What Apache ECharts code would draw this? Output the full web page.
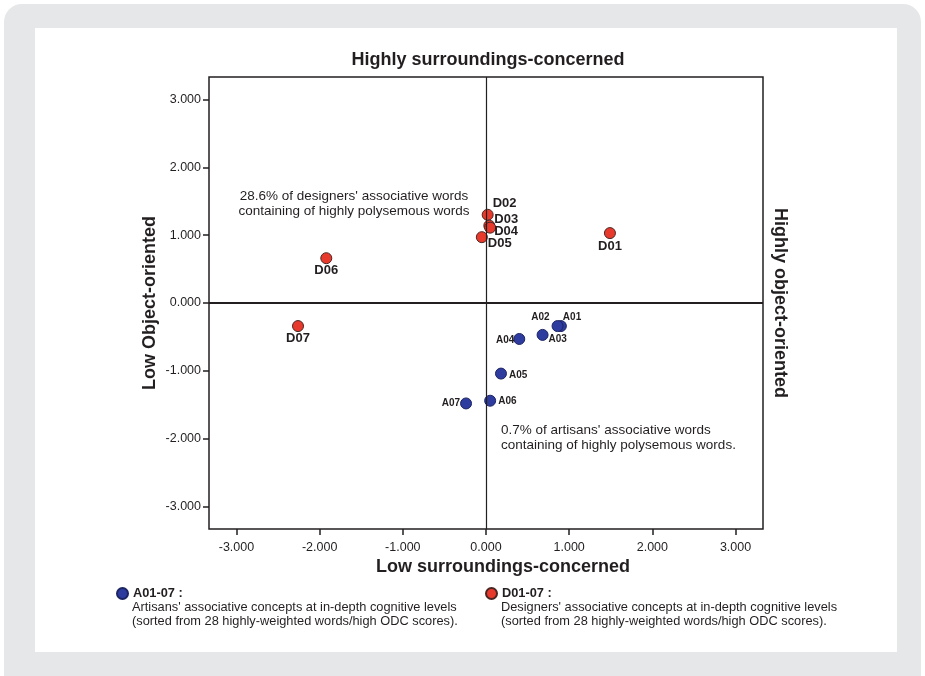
<!DOCTYPE html>
<html>
<head>
<meta charset="utf-8">
<script src="https://cdn.jsdelivr.net/npm/echarts@6/dist/echarts.min.js"></script>
<style>
  html, body { margin: 0; padding: 0; background: #ffffff; }
  #card { position: absolute; left: 4px; top: 4px; width: 917px; height: 700px; background: #e6e7e8; border-radius: 18px; }
  #panel { position: absolute; left: 35px; top: 28px; width: 862px; height: 624px; background: #ffffff; }
  #chart { position: absolute; left: 0; top: 0; width: 925px; height: 676px; }
</style>
</head>
<body>
<div id="card"></div>
<div id="panel"></div>
<div id="chart"></div>
<script>
// ---- data ----
const artisanNames = ['A01', 'A02', 'A03', 'A04', 'A05', 'A06', 'A07'];
const artisanX = [0.90, 0.86, 0.68, 0.40, 0.18, 0.05, -0.24];
const artisanY = [-0.34, -0.34, -0.47, -0.53, -1.04, -1.44, -1.48];
const designerNames = ['D01', 'D02', 'D03', 'D04', 'D05', 'D06', 'D07'];
const designerX = [1.49, 0.02, 0.04, 0.05, -0.05, -1.92, -2.26];
const designerY = [1.03, 1.30, 1.14, 1.11, 0.97, 0.66, -0.34];
const xTicks = [-3, -2, -1, 0, 1, 2, 3];
const yTicks = [-3, -2, -1, 0, 1, 2, 3];
const axisMin = -3.33, axisMax = 3.33;

// ---- label placement (style, not data) ----
const labelPlace = {
  A01: ['right', [-9, -9]], A02: ['left', [3, -9]], A03: ['right', [-5, 4]],
  A04: ['left', [6, 1]], A05: ['right', [-3, 2]], A06: ['right', [-3, 1]], A07: ['left', [5, 0]],
  D01: ['bottom', [0, -2]], D02: ['right', [-4, -11]], D03: ['right', [-4, -6]],
  D04: ['right', [-5, 4]], D05: ['right', [-3, 6]], D06: ['bottom', [0, -3]], D07: ['bottom', [0, -3]]
};

function buildPoints(names, xs, ys) {
  return names.map((n, i) => ({
    name: n,
    value: [xs[i], ys[i]],
    label: { position: labelPlace[n][0], offset: labelPlace[n][1] }
  }));
}

const textColor = '#231f20';
const font = 'Liberation Sans, Arial, Helvetica, sans-serif';

const chart = echarts.init(document.getElementById('chart'), null, { renderer: 'canvas' });
chart.setOption({
  animation: false,
  textStyle: { fontFamily: font, color: textColor },
  grid: { left: 209, right: 162, top: 77, bottom: 147, show: true, borderColor: '#231f20', borderWidth: 1.5, backgroundColor: 'transparent' },
  xAxis: {
    type: 'value', min: axisMin, max: axisMax,
    splitLine: { show: false },
    axisLine: { show: false, onZero: false },
    axisTick: { show: true, customValues: xTicks, length: 6, lineStyle: { color: '#231f20', width: 1.5 } },
    axisLabel: { customValues: xTicks, formatter: v => v.toFixed(3), color: textColor, fontSize: 12.5, fontFamily: font, margin: 12 }
  },
  yAxis: {
    type: 'value', min: axisMin, max: axisMax,
    splitLine: { show: false },
    axisLine: { show: false, onZero: false },
    axisTick: { show: true, customValues: yTicks, length: 6, lineStyle: { color: '#231f20', width: 1.5 } },
    axisLabel: { customValues: yTicks, formatter: v => v.toFixed(3), color: textColor, fontSize: 12.5, fontFamily: font, margin: 8 }
  },
  legend: [
    { data: ['A01-07 :'], left: 116, top: 587, padding: 0, itemWidth: 11, itemHeight: 11, itemGap: 0, icon: 'circle', selectedMode: false,
      textStyle: { fontSize: 12.8, fontWeight: 'bold', color: textColor, fontFamily: font } },
    { data: ['D01-07 :'], left: 485, top: 587, padding: 0, itemWidth: 11, itemHeight: 11, itemGap: 0, icon: 'circle', selectedMode: false,
      textStyle: { fontSize: 12.8, fontWeight: 'bold', color: textColor, fontFamily: font } }
  ],
  series: [
    {
      name: 'A01-07 :', type: 'scatter', symbol: 'circle', symbolSize: 11,
      itemStyle: { color: '#2d3c9e', borderColor: '#1c2463', borderWidth: 1, opacity: 1 },
      label: { show: true, formatter: '{b}', fontSize: 10, fontWeight: 'bold', color: textColor, fontFamily: font, distance: 5 },
      data: buildPoints(artisanNames, artisanX, artisanY),
      z: 3,
      markLine: {
        silent: true, symbol: ['none', 'none'], label: { show: false },
        data: [
          { xAxis: 0, lineStyle: { color: '#231f20', width: 1.2, type: 'solid' } },
          { yAxis: 0, lineStyle: { color: '#231f20', width: 2, type: 'solid' } }
        ]
      }
    },
    {
      name: 'D01-07 :', type: 'scatter', symbol: 'circle', symbolSize: 11,
      itemStyle: { color: '#e83a2c', borderColor: '#4a2522', borderWidth: 1, opacity: 1 },
      label: { show: true, formatter: '{b}', fontSize: 13, fontWeight: 'bold', color: textColor, fontFamily: font, distance: 3 },
      data: buildPoints(designerNames, designerX, designerY),
      z: 4
    }
  ],
  graphic: [
    { type: 'text', x: 488, y: 60, style: { text: 'Highly surroundings-concerned', font: 'bold 18px ' + font, fill: textColor, align: 'center', verticalAlign: 'middle' } },
    { type: 'text', x: 503, y: 567, style: { text: 'Low surroundings-concerned', font: 'bold 18px ' + font, fill: textColor, align: 'center', verticalAlign: 'middle' } },
    { type: 'text', x: 150, y: 303, rotation: Math.PI / 2, style: { text: 'Low Object-oriented', font: 'bold 18px ' + font, fill: textColor, align: 'center', verticalAlign: 'middle' } },
    { type: 'text', x: 780, y: 303, rotation: -Math.PI / 2, style: { text: 'Highly object-oriented', font: 'bold 18px ' + font, fill: textColor, align: 'center', verticalAlign: 'middle' } },
    { type: 'text', x: 354, y: 189, style: { text: "28.6% of designers' associative words\ncontaining of highly polysemous words", font: '13.5px ' + font, fill: textColor, align: 'center', lineHeight: 15 } },
    { type: 'text', x: 501, y: 423, style: { text: "0.7% of artisans' associative words\ncontaining of highly polysemous words.", font: '13.5px ' + font, fill: textColor, align: 'left', lineHeight: 15 } },
    { type: 'text', x: 132, y: 600, style: { text: "Artisans' associative concepts at in-depth cognitive levels\n(sorted from 28 highly-weighted words/high ODC scores).", font: '12.8px ' + font, fill: textColor, lineHeight: 14.5 } },
    { type: 'text', x: 501, y: 600, style: { text: "Designers' associative concepts at in-depth cognitive levels\n(sorted from 28 highly-weighted words/high ODC scores).", font: '12.8px ' + font, fill: textColor, lineHeight: 14.5 } }
  ]
});
</script>
</body>
</html>
